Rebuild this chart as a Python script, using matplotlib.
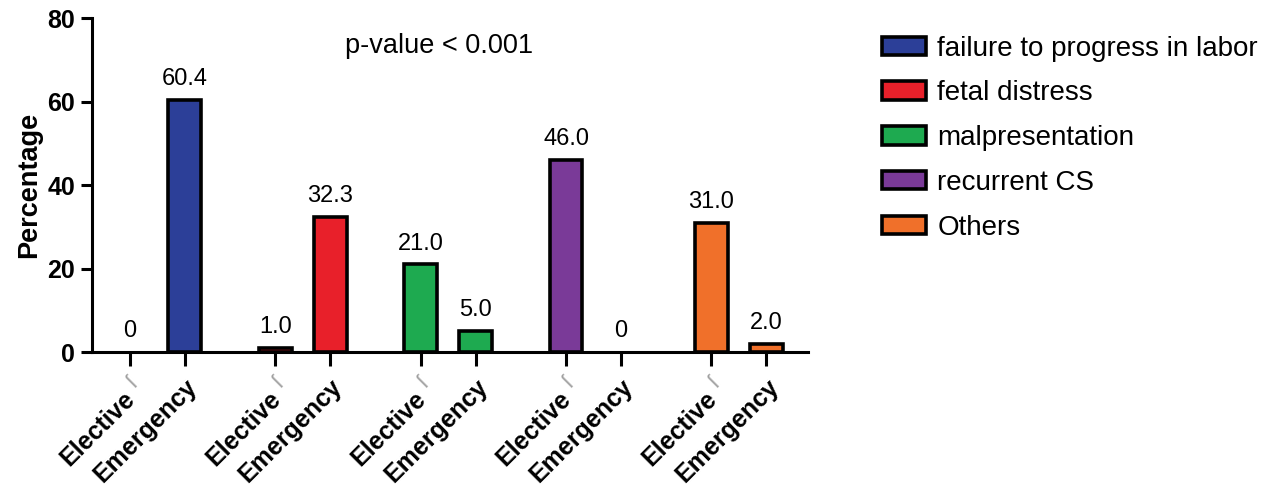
import matplotlib
matplotlib.use("Agg")
import matplotlib.pyplot as plt
from matplotlib.patches import Patch

plt.rcParams["font.family"] = ["Liberation Sans", "DejaVu Sans"]

reasons = ["failure to progress in labor", "fetal distress", "malpresentation",
           "recurrent CS", "Others"]
elective = [0, 1.0, 21.0, 46.0, 31.0]
emergency = [60.4, 32.3, 5.0, 0, 2.0]
elective_labels = ["0", "1.0", "21.0", "46.0", "31.0"]
emergency_labels = ["60.4", "32.3", "5.0", "0", "2.0"]
colors = ["#2C3F98", "#E8202A", "#1EAA50", "#7A3A98", "#F0702A"]
group_step = 2.65

fig = plt.figure(figsize=(12.71, 4.87), dpi=100)
ax = fig.add_axes([0.0724, 0.277, 0.5633, 0.686])

xs, labels = [], []
for i, (e, m) in enumerate(zip(elective, emergency)):
    x0 = i * group_step
    for x, v, lab in ((x0, e, elective_labels[i]), (x0 + 1, m, emergency_labels[i])):
        ax.bar(x, v, width=0.6, color=colors[i], edgecolor="black",
               linewidth=2.6 if v > 0 else 0, zorder=3)
        ax.annotate(lab, (x, v), xytext=(0, 7), textcoords="offset points",
                    ha="center", va="bottom", fontsize=17)
    xs += [x0, x0 + 1]
    labels += ["", "Emergency"]
    # "Elective" label sits a bit lower, leaving room for the small grey mark
    ax.annotate("Elective", (x0, 0), xycoords=("data", "axes fraction"),
                xytext=(-5, -25), textcoords="offset points",
                rotation=45, rotation_mode="anchor", ha="right", va="top",
                fontsize=18, fontweight="bold", annotation_clip=False)
    ax.annotate("ſ", (x0, 0), xycoords=("data", "axes fraction"),
                xytext=(2, -22), textcoords="offset points",
                rotation=45, fontsize=16, color="#a0a0a0", ha="center", va="center",
                annotation_clip=False)

ax.set_xticks(xs)
ax.set_xticklabels(labels, rotation=45, ha="right", va="top",
                   rotation_mode="anchor", fontsize=18, fontweight="bold")
ax.set_xlim(-0.69, 4 * group_step + 1 + 0.76)
ax.set_ylim(0, 80)
ax.set_yticks([0, 20, 40, 60, 80])
ax.tick_params(axis="y", labelsize=18, width=2.2, length=8, pad=4)
for t in ax.get_yticklabels():
    t.set_fontweight("bold")
ax.tick_params(axis="x", width=2.2, length=10, pad=6)
ax.set_ylabel("Percentage", fontsize=19.5, fontweight="bold", labelpad=4)

for s in ("top", "right"):
    ax.spines[s].set_visible(False)
for s in ("left", "bottom"):
    ax.spines[s].set_linewidth(2.2)

ax.text(0.485, 0.915, "p-value < 0.001", transform=ax.transAxes,
        ha="center", va="center", fontsize=19.5)

handles = [Patch(facecolor=c, edgecolor="black", linewidth=2.6) for c in colors]
fig.legend(handles, reasons, loc="upper left", bbox_to_anchor=(0.674, 0.978),
           frameon=False, fontsize=20, handlelength=1.6, handleheight=0.65,
           labelspacing=0.675, handletextpad=0.4)

fig.savefig("out.png", dpi=100)
